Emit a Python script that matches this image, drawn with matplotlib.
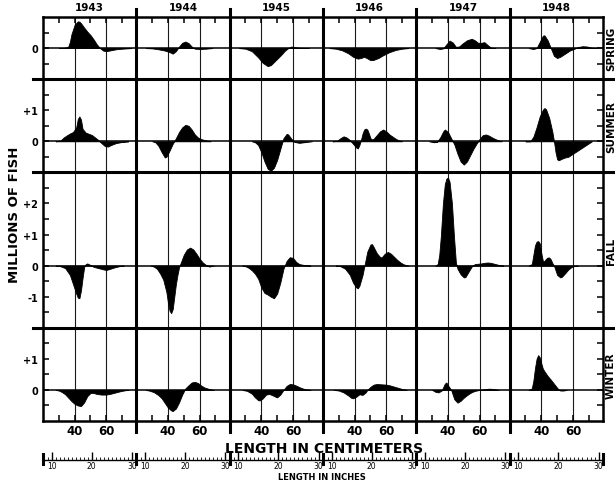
import numpy as np
import matplotlib
matplotlib.use("Agg")
import matplotlib.pyplot as plt
from matplotlib.lines import Line2D

plt.rcParams['font.family'] = ['DejaVu Sans']

years = [1943, 1944, 1945, 1946, 1947, 1948]
seasons = ["SPRING", "SUMMER", "FALL", "WINTER"]
season_ylim = [(-1, 1), (-1, 2), (-2, 3), (-1, 2)]
season_ylabels = [{0: "0"},
                  {1: "+1", 0: "0"},
                  {2: "+2", 1: "+1", 0: "0", -1: "-1"},
                  {1: "+1", 0: "0"}]
cm_ticks = [30, 40, 50, 60, 70]
inch_labels = [10, 20, 30]

# (length in cm, millions of fish)
spring_1943 = [(30, 0), (34, 0.01), (36, 0.05), (37, 0.2), (38, 0.45), (40, 0.75), (42, 0.86), (43, 0.85),
               (44, 0.8), (46, 0.66), (48, 0.53), (50, 0.42), (52, 0.28), (54, 0.12), (56, 0.0), (58, -0.08),
               (60, -0.1), (62, -0.08), (66, -0.04), (70, -0.02), (76, 0)]
spring_1944 = [(26, 0), (30, -0.01), (34, -0.04), (38, -0.08), (41, -0.13), (43, -0.18), (45, -0.1), (47, 0.05),
               (49, 0.17), (51, 0.21), (53, 0.16), (55, 0.05), (57, -0.02), (60, -0.03), (64, -0.02), (68, 0)]
spring_1945 = [(26, 0), (30, -0.02), (34, -0.1), (38, -0.3), (41, -0.48), (44, -0.58), (46, -0.55), (49, -0.4),
               (52, -0.25), (55, -0.08), (57, 0.0), (59, 0.05), (61, 0.03), (64, 0.01), (70, 0)]
spring_1946 = [(24, 0), (28, -0.02), (32, -0.07), (36, -0.17), (39, -0.28), (42, -0.34), (44, -0.32), (46, -0.28),
               (48, -0.33), (50, -0.39), (52, -0.38), (55, -0.32), (58, -0.23), (62, -0.13), (66, -0.06),
               (70, -0.02), (74, 0)]
spring_1947 = [(32, 0), (35, -0.03), (37, -0.01), (39, 0.12), (41, 0.24), (43, 0.18), (45, 0.04), (47, 0.05),
               (49, 0.14), (52, 0.25), (55, 0.3), (57, 0.25), (59, 0.17), (61, 0.17), (63, 0.19), (65, 0.1),
               (67, 0.02), (70, 0)]
spring_1948 = [(32, 0), (35, -0.03), (37, 0.0), (39, 0.2), (41, 0.4), (42, 0.41), (44, 0.25), (46, 0.0),
               (48, -0.25), (50, -0.32), (52, -0.28), (55, -0.18), (58, -0.08), (61, -0.02), (63, 0.03),
               (66, 0.06), (69, 0.05), (72, 0.01), (75, 0)]

summer_1943 = [(28, 0), (31, 0.02), (33, 0.12), (35, 0.19), (37, 0.25), (39, 0.3), (41, 0.45), (42, 0.72),
               (43, 0.8), (44, 0.7), (45, 0.4), (47, 0.28), (49, 0.24), (51, 0.2), (53, 0.12), (55, 0.04),
               (57, -0.06), (59, -0.15), (61, -0.17), (63, -0.12), (66, -0.06), (70, -0.02), (74, 0)]
summer_1944 = [(30, 0), (32, -0.03), (34, -0.15), (36, -0.35), (38, -0.52), (39, -0.5), (41, -0.3), (43, -0.08),
               (45, 0.1), (47, 0.3), (49, 0.45), (51, 0.53), (53, 0.5), (55, 0.38), (57, 0.22), (59, 0.12),
               (61, 0.07), (64, 0.03), (67, 0)]
summer_1945 = [(34, 0), (36, -0.03), (38, -0.12), (40, -0.35), (42, -0.65), (44, -0.88), (46, -0.95),
               (48, -0.85), (50, -0.6), (52, -0.25), (54, 0.1), (56, 0.24), (57, 0.22), (59, 0.08), (61, -0.02),
               (64, -0.05), (67, -0.03), (72, 0)]
summer_1946 = [(26, 0), (29, 0.02), (31, 0.1), (33, 0.16), (35, 0.12), (37, 0.04), (39, -0.08), (41, -0.2),
               (42, -0.23), (43, -0.12), (44, 0.05), (45, 0.25), (46, 0.38), (47, 0.41), (48, 0.38), (49, 0.25),
               (50, 0.1), (51, 0.06), (52, 0.08), (54, 0.2), (56, 0.32), (58, 0.38), (60, 0.32), (62, 0.22),
               (64, 0.15), (66, 0.08), (68, 0.03), (70, 0)]
summer_1947 = [(28, 0), (31, -0.03), (33, -0.02), (35, 0.12), (37, 0.32), (38, 0.38), (40, 0.3), (42, 0.1),
               (44, -0.1), (46, -0.4), (48, -0.65), (50, -0.75), (52, -0.65), (54, -0.45), (56, -0.25),
               (58, -0.08), (60, 0.08), (62, 0.2), (64, 0.22), (66, 0.18), (68, 0.12), (70, 0.07), (72, 0.03),
               (74, 0)]
summer_1948 = [(30, 0), (33, 0.0), (35, 0.15), (37, 0.45), (39, 0.8), (41, 1.02), (42, 1.07), (43, 1.03),
               (45, 0.75), (47, 0.3), (48, 0.0), (49, -0.35), (50, -0.58), (51, -0.61), (53, -0.56), (55, -0.52),
               (57, -0.5), (60, -0.4), (63, -0.3), (66, -0.2), (69, -0.1), (72, 0)]

fall_1943 = [(28, 0), (31, -0.02), (34, -0.08), (37, -0.3), (39, -0.6), (41, -0.9), (42, -1.03), (43, -1.05),
             (44, -0.8), (45, -0.4), (46, -0.05), (47, 0.05), (48, 0.07), (50, 0.02), (52, -0.04), (55, -0.08),
             (58, -0.12), (60, -0.14), (62, -0.11), (65, -0.06), (68, -0.02), (71, 0)]
fall_1944 = [(29, 0), (31, -0.03), (33, -0.1), (35, -0.25), (37, -0.45), (39, -0.85), (40, -1.2), (41, -1.45),
             (42, -1.53), (43, -1.4), (44, -1.0), (45, -0.6), (46, -0.3), (47, -0.05), (48, 0.08), (50, 0.35),
             (52, 0.52), (54, 0.58), (56, 0.52), (58, 0.38), (60, 0.22), (62, 0.1), (64, 0.02), (66, -0.03),
             (69, 0)]
fall_1945 = [(28, 0), (30, -0.02), (32, -0.07), (34, -0.15), (36, -0.26), (38, -0.42), (40, -0.7), (42, -0.88),
             (44, -0.93), (46, -1.0), (48, -1.05), (50, -0.9), (52, -0.55), (54, -0.1), (56, 0.15), (58, 0.27),
             (60, 0.25), (62, 0.12), (64, 0.05), (67, 0.02), (71, 0)]
fall_1946 = [(28, 0), (31, -0.02), (34, -0.1), (37, -0.3), (39, -0.55), (41, -0.7), (42, -0.73), (43, -0.65),
             (45, -0.3), (46, -0.05), (47, 0.2), (48, 0.45), (50, 0.68), (51, 0.69), (52, 0.6), (54, 0.4),
             (56, 0.28), (57, 0.26), (59, 0.38), (61, 0.44), (63, 0.38), (65, 0.28), (67, 0.18), (69, 0.1),
             (71, 0.04), (74, 0)]
fall_1947 = [(32, 0), (33.5, 0.05), (34.5, 0.35), (35.5, 0.95), (36.8, 2.0), (38, 2.62), (39, 2.8), (40, 2.83),
             (41, 2.7), (42.5, 2.0), (43.8, 0.93), (45, 0.1), (46, -0.1), (48, -0.28), (50, -0.38), (51, -0.37),
             (53, -0.2), (55, -0.03), (57, 0.05), (59, 0.06), (61, 0.07), (63, 0.09), (65, 0.1), (67, 0.09),
             (70, 0.05), (73, 0.01), (75, 0)]
fall_1948 = [(32, 0), (34, 0.05), (35, 0.35), (36, 0.65), (37, 0.77), (38, 0.79), (39, 0.72), (40, 0.4),
             (41, 0.15), (42, 0.15), (43, 0.22), (44, 0.26), (45, 0.26), (46, 0.2), (47, 0.08), (48, 0.0),
             (49, -0.15), (50, -0.3), (52, -0.38), (53, -0.36), (55, -0.25), (57, -0.13), (59, -0.05),
             (61, -0.01), (63, 0)]

winter_1943 = [(28, 0), (30, -0.02), (32, -0.07), (34, -0.14), (36, -0.25), (38, -0.36), (40, -0.45), (42, -0.5),
               (44, -0.52), (46, -0.4), (48, -0.2), (50, -0.1), (52, -0.1), (54, -0.13), (57, -0.15), (60, -0.15),
               (63, -0.12), (66, -0.08), (69, -0.04), (72, -0.01), (74, 0)]
winter_1944 = [(26, 0), (28, -0.02), (31, -0.07), (34, -0.17), (36, -0.27), (38, -0.42), (40, -0.57), (42, -0.66),
               (43, -0.68), (45, -0.6), (47, -0.4), (49, -0.15), (51, 0.05), (53, 0.15), (55, 0.24), (57, 0.26),
               (59, 0.22), (61, 0.14), (63, 0.08), (66, 0.03), (69, 0)]
winter_1945 = [(28, 0), (31, -0.03), (34, -0.12), (36, -0.24), (38, -0.33), (39, -0.34), (41, -0.27), (43, -0.15),
               (45, -0.13), (47, -0.17), (49, -0.22), (50, -0.24), (52, -0.15), (54, 0.0), (56, 0.13), (58, 0.19),
               (60, 0.18), (62, 0.14), (64, 0.09), (66, 0.05), (68, 0.02), (71, 0)]
winter_1946 = [(27, 0), (30, -0.02), (33, -0.08), (36, -0.18), (38, -0.26), (39, -0.27), (41, -0.22), (43, -0.14),
               (44, -0.15), (45, -0.16), (47, -0.08), (48, 0.0), (50, 0.1), (52, 0.17), (54, 0.19), (57, 0.18),
               (60, 0.17), (62, 0.15), (64, 0.12), (66, 0.09), (68, 0.06), (70, 0.03), (73, 0)]
winter_1947 = [(30, 0), (32, -0.06), (34, -0.08), (36, -0.02), (38, 0.2), (39, 0.24), (40, 0.15), (42, 0.0),
               (44, -0.3), (46, -0.41), (48, -0.35), (50, -0.25), (52, -0.17), (54, -0.1), (56, -0.05), (58, -0.02),
               (60, 0.0), (63, 0.02), (66, 0.04), (69, 0.03), (72, 0)]
winter_1948 = [(32, 0), (34, 0.05), (35, 0.3), (36, 0.7), (37, 1.0), (38, 1.12), (39, 1.05), (40, 0.85),
               (41, 0.68), (42, 0.6), (44, 0.45), (46, 0.33), (48, 0.2), (50, 0.07), (51, 0.01), (52, -0.02),
               (54, -0.02), (56, 0)]

panels = {
    "SPRING": [spring_1943, spring_1944, spring_1945, spring_1946, spring_1947, spring_1948],
    "SUMMER": [summer_1943, summer_1944, summer_1945, summer_1946, summer_1947, summer_1948],
    "FALL": [fall_1943, fall_1944, fall_1945, fall_1946, fall_1947, fall_1948],
    "WINTER": [winter_1943, winter_1944, winter_1945, winter_1946, winter_1947, winter_1948],
}

W, H = 615, 485
L, R, T, B = 43, 603, 18, 422
XMIN, XMAX = 20, 79
ratios = [2, 3, 5, 3]

fig = plt.figure(figsize=(W / 100, H / 100), dpi=100)
gs = fig.add_gridspec(4, 6, height_ratios=ratios, left=L / W, right=R / W,
                      top=1 - T / H, bottom=1 - B / H, wspace=0, hspace=0)

for r, season in enumerate(seasons):
    lo, hi = season_ylim[r]
    for c, year in enumerate(years):
        ax = fig.add_subplot(gs[r, c])
        pts = np.array(panels[season][c])
        ax.fill_between(pts[:, 0], pts[:, 1], 0, facecolor="black", edgecolor="black", lw=0.6, zorder=3)
        ax.axhline(0, color="black", lw=1.1, zorder=2)
        for v in (40, 60):
            ax.axvline(v, color="#1a1a1a", lw=0.8, zorder=1)
        ax.set_xlim(XMIN, XMAX)
        ax.set_ylim(lo, hi)
        for s in ax.spines.values():
            s.set_linewidth(1.8)
        ax.set_xticks([])
        ax.set_yticks([])
        if r == 0:
            ax.set_xticks(cm_ticks)
            ax.tick_params(axis="x", top=True, bottom=False, labeltop=False, labelbottom=False,
                           direction="in", length=4, width=1.1)
        if r == 3:
            ax.set_xticks(cm_ticks, [str(t) if t in (40, 60) else "" for t in cm_ticks],
                          fontsize=8.5, fontweight="bold")
            ax.tick_params(axis="x", direction="in", length=4, width=1.1, pad=2)
        yt = np.arange(lo + 0.5, hi, 0.5)
        if c == 0:
            labs = [season_ylabels[r].get(int(v), "") if float(v).is_integer() else "" for v in yt]
            ax.set_yticks(yt, labs, fontsize=7, fontweight="bold")
            ax.tick_params(axis="y", direction="in", length=4, width=1.1, pad=3.5)
        if c == 5:
            ax.set_yticks(yt)
            ax.tick_params(axis="y", left=False, right=True, labelleft=False,
                           direction="in", length=4, width=1.1)

# extended divider lines between years and seasons
col_x = np.linspace(L, R, 7)
row_y = T + (B - T) * np.concatenate([[0], np.cumsum(ratios)]) / sum(ratios)
for x in col_x[1:-1]:
    fig.add_artist(Line2D([x / W, x / W], [1 - 10 / H, 1 - 433 / H], color="black", lw=2.2,
                          transform=fig.transFigure))
for y in row_y[1:-1]:
    fig.add_artist(Line2D([33 / W, 613 / W], [1 - y / H, 1 - y / H], color="black", lw=2.2,
                          transform=fig.transFigure))

# year headings and season labels
for c, year in enumerate(years):
    fig.text((col_x[c] + col_x[c + 1]) / 2 / W, 1 - 8 / H, str(year), ha="center", va="center",
             fontsize=7.5, fontweight="bold")
for r, season in enumerate(seasons):
    fig.text(606 / W, 1 - (row_y[r] + row_y[r + 1]) / 2 / H, season, rotation=90, ha="left",
             va="center", fontsize=7.5, fontweight="bold")

fig.text(15 / W, 1 - 215 / H, "MILLIONS OF FISH", rotation=90, ha="center", va="center",
         fontsize=9.5, fontweight="bold")
fig.text(324 / W, 1 - 449 / H, "LENGTH IN CENTIMETERS", ha="center", va="center",
         fontsize=10, fontweight="bold")
fig.text(322 / W, 1 - 478 / H, "LENGTH IN INCHES", ha="center", va="center",
         fontsize=6, fontweight="bold")

# inch scale under each column
for c in range(6):
    iax = fig.add_axes([col_x[c] / W, 1 - 461 / H, (col_x[c + 1] - col_x[c]) / W, 7 / H])
    iax.set_xlim(XMIN / 2.54, XMAX / 2.54)
    iax.set_ylim(0, 1)
    for side in ("top", "left", "right"):
        iax.spines[side].set_visible(False)
    iax.spines["bottom"].set_linewidth(1.0)
    iax.set_yticks([])
    iax.set_xticks(inch_labels, [str(v) for v in inch_labels], fontsize=5.5)
    iax.set_xticks(np.arange(8, 32), minor=True)
    iax.tick_params(axis="x", which="major", direction="in", length=6, width=1.0, pad=1)
    iax.tick_params(axis="x", which="minor", direction="in", length=2.5, width=0.6)
    iax.patch.set_visible(False)
    iax.axvline(XMIN / 2.54, ymin=-0.6, ymax=0.8, color="black", lw=2.2, clip_on=False)
    if c == 5:
        iax.axvline(XMAX / 2.54, ymin=-0.6, ymax=0.8, color="black", lw=2.2, clip_on=False)

fig.savefig("out.png", dpi=100)
